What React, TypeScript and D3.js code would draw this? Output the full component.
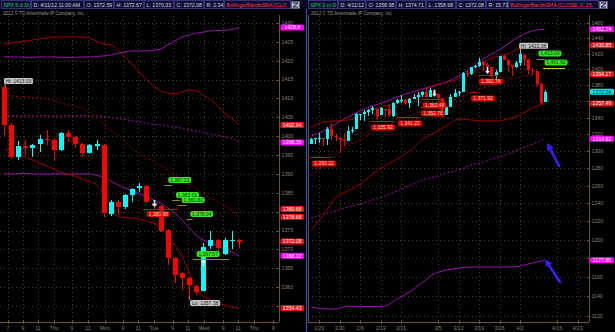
import React from "react";
import * as d3 from "d3";

const FONT = "'Liberation Sans', Arial, Helvetica, sans-serif";
const RED = "#ff0000";
const CYAN = "#00ffff";
const BAND_RED = "#a00000";
const BAND_MAG = "#9c10b0";
const GRID = "#4a3b20";
const AXIS_TEXT = "#8e8270";
const AXIS_LINE = "#6b5532";

// ================= LEFT PANEL: SPX 5 d 1h =================
const hourOpen = [1413.0, 1403.0, 1394.5, 1397.4, 1396.9, 1397.9, 1399.3, 1399.0, 1396.3, 1400.8, 1399.8, 1397.9, 1395.5, 1397.4, 1397.7, 1379.4, 1382.6, 1381.2, 1384.4, 1386.3, 1386.8, 1382.2, 1381.5, 1375.1, 1367.7, 1363.7, 1362.4, 1360.3, 1358.98, 1370.9, 1372.5, 1368.8, 1372.4, 1372.59];
const hourHigh = [1413.03, 1403.5, 1398.7, 1399.0, 1398.0, 1400.3, 1401.6, 1399.5, 1401.0, 1401.6, 1400.0, 1398.2, 1397.9, 1399.0, 1397.9, 1383.0, 1383.2, 1384.8, 1386.3, 1387.6, 1387.0, 1383.01, 1381.8, 1375.4, 1368.0, 1364.0, 1362.8, 1360.5, 1371.7, 1374.9, 1372.8, 1372.9, 1374.9, 1372.67];
const hourLow = [1400.3, 1394.0, 1393.7, 1395.0, 1394.5, 1395.8, 1397.7, 1393.4, 1396.0, 1398.5, 1396.9, 1394.5, 1395.2, 1396.3, 1378.6, 1378.9, 1379.1, 1380.8, 1382.6, 1385.2, 1382.3, 1380.6, 1374.6, 1365.9, 1361.1, 1359.2, 1357.38, 1357.9, 1358.98, 1370.0, 1369.3, 1368.5, 1370.1, 1370.33];
const hourClose = [1403.0, 1394.5, 1397.4, 1396.9, 1397.7, 1399.3, 1399.0, 1396.3, 1400.8, 1399.8, 1397.9, 1395.5, 1397.7, 1397.9, 1379.6, 1382.6, 1381.2, 1384.4, 1386.0, 1386.8, 1382.6, 1381.5, 1374.9, 1367.7, 1363.2, 1362.4, 1360.6, 1358.6, 1370.6, 1372.5, 1370.4, 1372.5, 1372.6, 1372.08];

const hourBandUpper = [1424.4, 1424.7, 1425.0, 1425.2, 1425.5, 1425.8, 1426.0, 1426.3, 1426.3, 1426.3, 1426.3, 1426.3, 1426.0, 1425.2, 1424.4, 1424.2, 1422.8, 1421.0, 1419.1, 1417.0, 1414.9, 1413.3, 1412.0, 1411.4, 1411.2, 1411.7, 1412.2, 1412.0, 1410.9, 1409.6, 1408.0, 1406.1, 1404.8, 1402.94];
const hourBandMid = [1410.9, 1410.7, 1410.5, 1410.4, 1410.3, 1410.1, 1409.9, 1409.3, 1408.8, 1408.3, 1408.0, 1407.5, 1406.4, 1404.8, 1403.2, 1401.6, 1400.3, 1398.7, 1396.6, 1395.5, 1394.2, 1393.2, 1392.4, 1391.0, 1389.7, 1388.4, 1387.3, 1386.0, 1384.7, 1383.6, 1382.6, 1381.5, 1380.2, 1378.68];
const hourBandLower = [1396.6, 1396.1, 1395.3, 1394.5, 1393.7, 1392.9, 1392.1, 1391.3, 1390.5, 1390.0, 1389.4, 1388.7, 1387.9, 1387.1, 1384.4, 1380.4, 1378.8, 1378.4, 1378.3, 1378.1, 1377.5, 1377.0, 1375.9, 1373.5, 1371.1, 1368.2, 1364.0, 1359.2, 1357.6, 1356.6, 1355.8, 1355.3, 1354.7, 1354.43];
const hourWideUpper = [1421.1, 1421.0, 1421.0, 1420.9, 1420.9, 1421.0, 1421.0, 1421.0, 1420.9, 1420.9, 1420.9, 1421.0, 1421.0, 1421.1, 1421.3, 1421.5, 1422.0, 1422.3, 1422.6, 1422.6, 1422.6, 1422.8, 1423.1, 1424.2, 1425.2, 1426.3, 1426.8, 1427.3, 1427.6, 1427.9, 1428.0, 1428.1, 1428.3, 1428.8];
const hourWideMid = [1405.4, 1405.4, 1405.4, 1405.4, 1405.4, 1405.4, 1405.4, 1405.3, 1405.4, 1405.4, 1405.4, 1405.4, 1405.4, 1405.4, 1405.2, 1405.0, 1404.7, 1404.4, 1404.0, 1403.8, 1403.5, 1403.2, 1403.0, 1402.7, 1402.4, 1402.1, 1401.6, 1401.4, 1401.0, 1400.6, 1400.2, 1399.8, 1399.4, 1398.36];
const hourWideLower = [1390.0, 1390.0, 1390.1, 1390.1, 1390.0, 1390.0, 1390.0, 1390.0, 1390.0, 1389.9, 1390.0, 1390.0, 1390.0, 1389.6, 1389.1, 1388.1, 1387.1, 1386.3, 1385.5, 1384.7, 1383.9, 1383.1, 1382.3, 1381.0, 1379.6, 1377.8, 1375.7, 1373.8, 1372.5, 1371.7, 1370.9, 1370.1, 1369.3, 1368.32];

const hourTickLabels = ["7", "9", "11", "Thu", "9", "11", "Mon", "9", "11", "Tue", "9", "11", "Wed", "9", "11", "Thu", "9"];
const hourTickPos = [0.56, 2.67, 4.78, 7.02, 9.55, 11.8, 14.2, 16.7, 18.8, 21.07, 23.7, 25.8, 28.1, 30.8, 32.9, 35.1, 37.8];
const hourPriceTicks = [1355, 1360, 1365, 1370, 1375, 1380, 1385, 1390, 1395, 1400, 1405, 1410, 1415, 1420, 1425, 1430];

const hourAxisTagValues = [1428.8, 1402.94, 1398.36, 1380.68, 1378.68, 1372.08, 1368.32, 1354.43];
const hourAxisTagKinds = ["mag", "red", "mag", "red", "red", "red", "mag", "red"];

const hourRedLevelValues = [1380.68];
const hourRedLevelFrom = [19.5];
const hourRedLevelTo = [24.4];

const hourGreenValues = [1387.03, 1383.01, 1381.82, 1378.04, 1367.57];
const hourGreenFrom = [22.5, 23.6, 24.4, 25.6, 26.5];
const hourGreenTo = [23.6, 24.7, 25.6, 26.5, 31.6];

const hourArrowBars = [21, 28];
const hourArrowValues = [1381.2, 1367.4];
const hourArrowDirs = ["down", "up"];

// ================= RIGHT PANEL: SPX 3 m D =================
const dayOpen = [1308.07, 1314.49, 1315.29, 1315.96, 1314.4, 1326.28, 1318.25, 1316.16, 1313.53, 1312.45, 1324.24, 1326.21, 1344.32, 1344.33, 1347.04, 1349.97, 1351.21, 1343.06, 1351.3, 1350.52, 1342.61, 1358.06, 1361.22, 1362.11, 1357.53, 1363.46, 1365.2, 1367.56, 1372.2, 1365.9, 1374.09, 1369.59, 1363.63, 1343.39, 1352.65, 1365.97, 1370.78, 1371.92, 1395.95, 1394.17, 1402.55, 1404.17, 1409.59, 1405.52, 1402.89, 1392.78, 1397.11, 1416.55, 1412.52, 1405.39, 1403.31, 1408.47, 1418.98, 1413.09, 1398.79, 1397.45, 1382.18, 1358.98];
const dayHigh = [1315.49, 1315.38, 1322.28, 1315.96, 1328.3, 1333.47, 1320.06, 1316.16, 1321.41, 1330.52, 1329.19, 1345.34, 1344.36, 1349.24, 1351.0, 1354.32, 1351.21, 1353.35, 1351.3, 1355.87, 1359.02, 1363.4, 1367.76, 1362.7, 1364.24, 1368.92, 1371.94, 1373.09, 1378.04, 1376.17, 1374.53, 1369.59, 1363.63, 1354.85, 1368.72, 1374.76, 1373.04, 1396.13, 1399.42, 1402.63, 1405.88, 1414.0, 1409.59, 1407.75, 1402.89, 1399.18, 1416.58, 1419.15, 1413.65, 1405.39, 1410.89, 1422.38, 1419.0, 1413.09, 1401.6, 1397.45, 1383.01, 1374.71];
const dayLow = [1308.07, 1309.17, 1309.89, 1306.06, 1307.65, 1313.6, 1311.72, 1300.49, 1306.69, 1312.45, 1321.57, 1326.21, 1337.52, 1335.92, 1341.95, 1344.63, 1337.35, 1343.06, 1340.83, 1340.8, 1341.22, 1357.24, 1358.11, 1355.53, 1352.28, 1363.46, 1354.92, 1365.97, 1363.81, 1365.9, 1366.42, 1359.13, 1340.03, 1343.39, 1352.65, 1365.97, 1366.69, 1371.92, 1389.97, 1392.78, 1401.47, 1402.43, 1397.68, 1400.64, 1388.73, 1386.87, 1397.11, 1411.95, 1397.2, 1391.56, 1401.42, 1404.46, 1404.62, 1394.09, 1392.92, 1378.24, 1357.38, 1358.98];
const dayClose = [1314.5, 1315.38, 1316.0, 1314.65, 1326.06, 1318.43, 1316.33, 1313.01, 1312.41, 1324.09, 1325.54, 1344.9, 1344.33, 1347.05, 1349.96, 1351.95, 1342.64, 1351.77, 1350.5, 1343.23, 1358.04, 1361.23, 1362.21, 1357.66, 1363.46, 1365.74, 1367.59, 1372.18, 1365.68, 1374.09, 1369.63, 1364.33, 1343.36, 1352.63, 1365.91, 1370.87, 1371.09, 1395.95, 1394.28, 1402.6, 1404.17, 1409.75, 1405.52, 1402.89, 1392.78, 1397.11, 1416.51, 1412.52, 1405.54, 1403.28, 1408.47, 1419.04, 1413.38, 1398.96, 1398.08, 1382.2, 1358.59, 1372.08];

const dayBandIdx = [0, 3, 6, 9, 12, 15, 18, 21, 24, 27, 30, 33, 36, 39, 42, 45, 48, 51, 54, 57];
const dayBandUpper = [1327.7, 1334.9, 1336.1, 1337.3, 1340.9, 1349.5, 1354.4, 1358.0, 1363.0, 1367.9, 1380.0, 1383.5, 1388.0, 1396.7, 1409.4, 1415.8, 1419.6, 1427.3, 1429.9, 1430.85];
const dayBandMid = [1271.2, 1283.9, 1295.6, 1306.2, 1313.3, 1321.7, 1328.8, 1336.1, 1342.2, 1348.2, 1354.4, 1359.3, 1364.2, 1370.4, 1376.6, 1381.6, 1386.6, 1390.4, 1392.9, 1394.17];
const dayBandLower = [1209.5, 1227.1, 1246.2, 1254.1, 1262.0, 1273.5, 1282.8, 1290.9, 1300.3, 1313.3, 1321.7, 1330.1, 1338.5, 1337.3, 1336.1, 1336.1, 1338.5, 1343.4, 1351.9, 1357.49];
const dayWideUpper = [1318.1, 1324.0, 1332.5, 1340.9, 1348.2, 1354.4, 1359.3, 1365.4, 1370.4, 1375.3, 1379.1, 1384.1, 1391.6, 1401.7, 1413.2, 1422.2, 1432.5, 1442.9, 1449.5, 1451.74];
const dayWideMid = [1223.8, 1228.2, 1231.6, 1236.0, 1239.4, 1243.9, 1248.4, 1254.1, 1259.8, 1266.6, 1270.1, 1274.7, 1278.1, 1283.9, 1287.4, 1292.1, 1296.8, 1302.7, 1308.6, 1314.82];
const dayWideLower = [1129.1, 1127.5, 1127.0, 1130.1, 1129.6, 1129.6, 1130.1, 1137.3, 1144.5, 1153.9, 1163.3, 1167.5, 1169.6, 1170.7, 1170.7, 1170.7, 1170.7, 1171.7, 1175.0, 1177.85];

const dayTickLabels = ["1/23", "1/30", "2/6", "2/13", "2/21", "3/5", "3/12", "3/19", "3/26", "4/2", "4/16", "4/23"];
const dayTickPos = [2, 7, 12, 17, 22, 31, 36, 41, 46, 51, 60, 65];
const dayPriceTicks = [1120, 1140, 1160, 1180, 1200, 1220, 1240, 1260, 1280, 1300, 1320, 1340, 1360, 1380, 1400, 1420, 1440, 1460];

const dayAxisTagValues = [1451.74, 1430.85, 1394.17, 1372.08, 1357.49, 1314.82, 1177.85];
const dayAxisTagKinds = ["mag", "red", "red", "cyan", "red", "mag", "mag"];

const dayRedLevelValues = [1293.22, 1335.92, 1341.22, 1352.78, 1363.46, 1371.92, 1392.78];
const dayRedLevelFrom = [0, 14.4, 21, 26.6, 27, 38.8, 40.7];
const dayRedLevelTo = [4.9, 20, 26.6, 30.7, 32, 40.5, 45.6];

const dayGreenValues = [1413.09, 1401.6];
const dayGreenFrom = [55.1, 56.6];
const dayGreenTo = [57.1, 62];

const dayArrowBars = [30, 43];
const dayArrowValues = [1365.9, 1394.2];

// blue hand-drawn arrows (tail -> tip, in bar index / price)
const blueArrowTail = [[60.5, 1282.8], [60.7, 1155]];
const blueArrowTip = [[57.6, 1309.7], [57.1, 1179]];

const leftHeader = ["SPX 5 d 1h", "D: 4/11/12 11:00 AM", "O: 1372.59", "H: 1372.67", "L: 1370.33", "C: 1372.08", "R: 2.34", "BollingerBandsSMA (CLO"];
const rightHeader = ["SPX 3 m D", "D: 4/11/12", "O: 1358.98", "H: 1374.71", "L: 1358.98", "C: 1372.08", "R: 15.73", "BollingerBandsSMA (CLOSE, 0, 25,"];
const leftHeaderX = [1, 31, 84, 114, 144, 174, 204, 224, 291];
const rightHeaderX = [308, 338, 366, 396, 426, 456, 486, 508, 599];

const TAG_FILL: Record<string, string> = { red: "#e8101a", mag: "#ff00ff", cyan: "#00e8e8" };
const TAG_TEXT: Record<string, string> = { red: "#ffffff", mag: "#ffffff", cyan: "#002040" };

type Sc = (v: number) => number;

function Candles({ o, h, l, c, x, y, bw }: { o: number[]; h: number[]; l: number[]; c: number[]; x: Sc; y: Sc; bw: number }) {
  return (
    <g shapeRendering="crispEdges">
      {o.map((ov, i) => {
        const up = c[i] >= ov;
        const col = up ? CYAN : RED;
        const cx = Math.round(x(i)) + 0.5;
        const yt = y(Math.max(ov, c[i]));
        const yb = y(Math.min(ov, c[i]));
        return (
          <g key={i}>
            <line x1={cx} x2={cx} y1={y(h[i])} y2={y(l[i])} stroke={col} strokeWidth={1} />
            <rect x={cx - bw / 2} y={yt} width={bw} height={Math.max(1, yb - yt)} fill={col} />
          </g>
        );
      })}
    </g>
  );
}

function AxisTag({ x, y, w, text, kind }: { x: number; y: number; w: number; text: string; kind: string }) {
  return (
    <g>
      <rect x={x} y={y - 3} width={w} height={6} rx={1.5} fill={TAG_FILL[kind]} />
      <text x={x + w / 2} y={y + 1.9} fontSize={5.2} textAnchor="middle" fill={TAG_TEXT[kind]} fontFamily={FONT}>{text}</text>
    </g>
  );
}

function Pill({ x, y, w, text, fill, color }: { x: number; y: number; w: number; text: string; fill: string; color: string }) {
  return (
    <g>
      <rect x={x} y={y} width={w} height={6} rx={2} fill={fill} />
      <text x={x + w / 2} y={y + 4.7} fontSize={5} textAnchor="middle" fill={color} fontFamily={FONT}>{text}</text>
    </g>
  );
}

function WhiteArrow({ x, y, dir }: { x: number; y: number; dir: string }) {
  const s = dir === "down" ? -1 : 1;
  const d = `M${x - 0.8},${y + s * 7} L${x + 0.8},${y + s * 7} L${x + 0.8},${y + s * 3} L${x + 2.3},${y + s * 3} L${x},${y} L${x - 2.3},${y + s * 3} L${x - 0.8},${y + s * 3} Z`;
  return <path d={d} fill="#ffffff" />;
}

function Header({ texts, xs }: { texts: string[]; xs: number[] }) {
  const ix = xs[xs.length - 1];
  return (
    <g>
      {texts.map((t, i) => {
        const x0 = xs[i];
        const x1 = xs[i + 1] - 1;
        const col = i === 0 ? "#19d35a" : i === texts.length - 1 ? "#ff3030" : "#d8d8e0";
        return (
          <g key={i}>
            <rect x={x0 + 0.5} y={0.5} width={x1 - x0} height={8} fill="#0d0d33" stroke="#34347a" strokeWidth={1} />
            <text x={x0 + 2.5} y={6.6} fontSize={5.2} fill={col} fontFamily={FONT}>{t}</text>
          </g>
        );
      })}
      <rect x={ix + 0.5} y={1.5} width={8} height={7} fill="#b8bccc" stroke="#5a5f80" />
      <path d={`M${ix + 2},3 L${ix + 7},3 L${ix + 2},7 L${ix + 7},7`} stroke="#1a1a40" strokeWidth={1} fill="none" />
    </g>
  );
}

export default function App() {
  const W = 615;
  const H = 332;
  const fmt = d3.format(",.2f");

  const xL = d3.scaleLinear().domain([-0.56, 38.62]).range([0, 279]);
  const yL = d3.scaleLinear().domain([1350.75, 1431.86]).range([322, 16]);
  const xR = d3.scaleLinear().domain([-0.73, 67.8]).range([308, 589]);
  const yR = d3.scaleLog().domain([1113.9, 1469.3]).range([322, 16]);

  const lineL = (vals: number[]) =>
    d3.line<number>().x((_, i) => xL(i)).y((v) => yL(v)).curve(d3.curveMonotoneX)(vals) || "";
  const lineR = (vals: number[]) =>
    d3.line<number>().x((_, i) => xR(dayBandIdx[i])).y((v) => yR(v)).curve(d3.curveMonotoneX)(vals) || "";

  // tick labels hidden behind the price tags (as in the reference)
  const freeL = (v: number) => hourAxisTagValues.every((t) => Math.abs(yL(t) - yL(v)) > 4.2);
  const freeR = (v: number) => dayAxisTagValues.every((t) => Math.abs(yR(t) - yR(v)) > 4.2);

  return (
    <svg width={W} height={H} style={{ position: "fixed", left: 0, top: 0, background: "#000", display: "block" }}>
      <rect x={0} y={0} width={W} height={H} fill="#000" />
      <defs>
        <clipPath id="clipL"><rect x={0} y={15} width={279} height={307} /></clipPath>
        <clipPath id="clipR"><rect x={308} y={15} width={281} height={307} /></clipPath>
      </defs>

      {/* header */}
      <rect x={0} y={0} width={W} height={9} fill="#070720" />
      <Header texts={leftHeader} xs={leftHeaderX} />
      <Header texts={rightHeader} xs={rightHeaderX} />
      <text x={3} y={14.5} fontSize={4.6} fill="#9a9a9a" fontFamily={FONT}>2012 © TD Ameritrade IP Company, Inc.</text>
      <text x={311} y={14.5} fontSize={4.6} fill="#9a9a9a" fontFamily={FONT}>2012 © TD Ameritrade IP Company, Inc.</text>

      {/* ============ LEFT PANEL ============ */}
      <g shapeRendering="crispEdges">
        {hourPriceTicks.map((v) => (
          <line key={"lg" + v} x1={0} x2={279} y1={Math.round(yL(v)) + 0.5} y2={Math.round(yL(v)) + 0.5} stroke={GRID} strokeDasharray="1,3" />
        ))}
        {hourTickPos.map((p, i) => (
          <line key={"lv" + i} x1={Math.round(xL(p)) + 0.5} x2={Math.round(xL(p)) + 0.5} y1={16} y2={322} stroke={GRID} strokeDasharray="1,3" />
        ))}
      </g>
      <g clipPath="url(#clipL)" fill="none" strokeWidth={1}>
        <path d={lineL(hourWideUpper)} stroke={BAND_MAG} />
        <path d={lineL(hourWideMid)} stroke={BAND_MAG} strokeDasharray="2,2" />
        <path d={lineL(hourWideLower)} stroke={BAND_MAG} />
        <path d={lineL(hourBandUpper)} stroke={BAND_RED} />
        <path d={lineL(hourBandMid)} stroke={BAND_RED} strokeDasharray="2,2" />
        <path d={lineL(hourBandLower)} stroke={BAND_RED} />
      </g>
      <Candles o={hourOpen} h={hourHigh} l={hourLow} c={hourClose} x={xL} y={yL} bw={5} />

      {hourRedLevelValues.map((v, i) => {
        const y = Math.round(yL(v)) + 0.5;
        const x0 = xL(hourRedLevelFrom[i]);
        return (
          <g key={"lr" + i}>
            <line x1={x0} x2={xL(hourRedLevelTo[i])} y1={y} y2={y} stroke="#e00000" strokeWidth={1} />
            <Pill x={x0 + 4} y={y + 1.5} w={23} text={fmt(v)} fill="#e00000" color="#ffd8d8" />
          </g>
        );
      })}
      {hourGreenValues.map((v, i) => {
        const y = Math.round(yL(v)) + 0.5;
        const x0 = xL(hourGreenFrom[i]);
        return (
          <g key={"lgr" + i}>
            <line x1={x0} x2={xL(hourGreenTo[i])} y1={y} y2={y} stroke="#8c8c10" strokeWidth={1} />
            <Pill x={x0 + 4} y={y - 8.5} w={23} text={fmt(v)} fill="#33e622" color="#0a3a0a" />
          </g>
        );
      })}
      {hourArrowBars.map((b, i) => (
        <WhiteArrow key={"la" + i} x={Math.round(xL(b)) + 0.5} y={yL(hourArrowValues[i])} dir={hourArrowDirs[i]} />
      ))}

      {/* Hi / Lo tags on left */}
      <g>
        <line x1={xL(0) + 1} x2={xL(0) + 1} y1={yL(hourHigh[0]) - 3} y2={yL(hourHigh[0])} stroke="#c0c0c0" />
        <rect x={xL(0)} y={yL(hourHigh[0]) - 9} width={29} height={6} rx={1.5} fill="#c4c4c4" />
        <text x={xL(0) + 14.5} y={yL(hourHigh[0]) - 4.3} fontSize={5} textAnchor="middle" fill="#202020" fontFamily={FONT}>{"Hi: " + hourHigh[0].toFixed(2)}</text>
        <line x1={xL(26)} x2={xL(26) + 1} y1={yL(hourLow[26])} y2={yL(hourLow[26]) + 3} stroke="#c0c0c0" />
        <rect x={xL(26) + 1} y={yL(hourLow[26]) + 3} width={30} height={6} rx={1.5} fill="#c4c4c4" />
        <text x={xL(26) + 16} y={yL(hourLow[26]) + 7.7} fontSize={5} textAnchor="middle" fill="#202020" fontFamily={FONT}>{"Lo: " + hourLow[26].toFixed(2)}</text>
      </g>

      {/* left axes */}
      <g shapeRendering="crispEdges">
        <line x1={279.5} x2={279.5} y1={15} y2={322} stroke={AXIS_LINE} />
        <line x1={0} x2={279} y1={322.5} y2={322.5} stroke={AXIS_LINE} />
        {hourPriceTicks.map((v) => (
          <line key={"lt" + v} x1={277} x2={280} y1={Math.round(yL(v)) + 0.5} y2={Math.round(yL(v)) + 0.5} stroke={AXIS_LINE} />
        ))}
        {hourTickPos.map((p, i) => (
          <line key={"lxt" + i} x1={Math.round(xL(p)) + 0.5} x2={Math.round(xL(p)) + 0.5} y1={320} y2={324} stroke={AXIS_LINE} />
        ))}
      </g>
      {hourPriceTicks.filter(freeL).map((v) => (
        <text key={"ltl" + v} x={281.5} y={yL(v) + 1.8} fontSize={5.2} fill={AXIS_TEXT} fontFamily={FONT}>{v}</text>
      ))}
      {hourTickLabels.map((t, i) => (
        <text key={"lxl" + i} x={xL(hourTickPos[i])} y={329.5} fontSize={5.2} textAnchor="middle" fill={AXIS_TEXT} fontFamily={FONT}>{t}</text>
      ))}
      {hourAxisTagValues.map((v, i) => (
        <AxisTag key={"lat" + i} x={280.5} y={yL(v)} w={23.5} text={String(v)} kind={hourAxisTagKinds[i]} />
      ))}

      {/* separator */}
      <line x1={306.5} x2={306.5} y1={9} y2={332} stroke="#2456c8" strokeWidth={1.2} />

      {/* ============ RIGHT PANEL ============ */}
      <g shapeRendering="crispEdges">
        {dayPriceTicks.map((v) => (
          <line key={"rg" + v} x1={308} x2={589} y1={Math.round(yR(v)) + 0.5} y2={Math.round(yR(v)) + 0.5} stroke={GRID} strokeDasharray="1,3" />
        ))}
        {dayTickPos.map((p, i) => (
          <line key={"rv" + i} x1={Math.round(xR(p)) + 0.5} x2={Math.round(xR(p)) + 0.5} y1={16} y2={322} stroke={GRID} strokeDasharray="1,3" />
        ))}
      </g>
      <g clipPath="url(#clipR)" fill="none" strokeWidth={1}>
        <path d={lineR(dayWideUpper)} stroke={BAND_MAG} />
        <path d={lineR(dayWideMid)} stroke={BAND_MAG} strokeDasharray="2,2" />
        <path d={lineR(dayWideLower)} stroke={BAND_MAG} />
        <path d={lineR(dayBandUpper)} stroke={BAND_RED} />
        <path d={lineR(dayBandMid)} stroke={BAND_RED} strokeDasharray="2,2" />
        <path d={lineR(dayBandLower)} stroke={BAND_RED} />
      </g>
      <Candles o={dayOpen} h={dayHigh} l={dayLow} c={dayClose} x={xR} y={yR} bw={3} />

      {dayRedLevelValues.map((v, i) => {
        const y = Math.round(yR(v)) + 0.5;
        const x0 = xR(dayRedLevelFrom[i]);
        return (
          <g key={"rr" + i}>
            <line x1={x0} x2={xR(dayRedLevelTo[i])} y1={y} y2={y} stroke="#e00000" strokeWidth={1} />
            <Pill x={x0 + 1} y={y + 3} w={24} text={fmt(v)} fill="#e00000" color="#ffd8d8" />
          </g>
        );
      })}
      {dayGreenValues.map((v, i) => {
        const y = Math.round(yR(v)) + 0.5;
        const x0 = xR(dayGreenFrom[i]);
        return (
          <g key={"rgr" + i}>
            <line x1={x0} x2={xR(dayGreenTo[i])} y1={y} y2={y} stroke={i === 0 ? "#8c8c10" : "#c8d820"} strokeWidth={1} />
            <Pill x={x0 + 1.5} y={y - 9} w={23} text={fmt(v)} fill="#33e622" color="#0a3a0a" />
          </g>
        );
      })}
      {dayArrowBars.map((b, i) => (
        <WhiteArrow key={"ra" + i} x={Math.round(xR(b)) + 0.5} y={yR(dayArrowValues[i])} dir="down" />
      ))}
      <g>
        <line x1={xR(51) + 0.5} x2={xR(51) + 0.5} y1={yR(dayHigh[51]) - 3} y2={yR(dayHigh[51])} stroke="#c0c0c0" />
        <rect x={xR(51) - 1} y={yR(dayHigh[51]) - 9} width={29} height={6} rx={1.5} fill="#c4c4c4" />
        <text x={xR(51) + 13.5} y={yR(dayHigh[51]) - 4.3} fontSize={5} textAnchor="middle" fill="#202020" fontFamily={FONT}>{"Hi: " + dayHigh[51].toFixed(2)}</text>
      </g>

      {/* blue arrows */}
      {blueArrowTail.map((t, i) => {
        const x1 = xR(t[0]), y1 = yR(t[1]);
        const x2 = xR(blueArrowTip[i][0]), y2 = yR(blueArrowTip[i][1]);
        const ang = Math.atan2(y2 - y1, x2 - x1);
        const hl = 7, hw = 3.6;
        const bx = x2 - hl * Math.cos(ang), by = y2 - hl * Math.sin(ang);
        const px = -Math.sin(ang), py = Math.cos(ang);
        return (
          <g key={"ba" + i}>
            <line x1={x1} y1={y1} x2={bx} y2={by} stroke="#3a1cff" strokeWidth={2.6} strokeLinecap="round" />
            <path d={`M${x2},${y2} L${bx + px * hw},${by + py * hw} L${bx - px * hw},${by - py * hw} Z`} fill="#3a1cff" />
          </g>
        );
      })}

      {/* right axes */}
      <g shapeRendering="crispEdges">
        <line x1={308.5} x2={308.5} y1={15} y2={322} stroke={AXIS_LINE} />
        <line x1={589.5} x2={589.5} y1={15} y2={322} stroke={AXIS_LINE} />
        <line x1={308} x2={589} y1={322.5} y2={322.5} stroke={AXIS_LINE} />
        {dayPriceTicks.map((v) => (
          <line key={"rt" + v} x1={587} x2={590} y1={Math.round(yR(v)) + 0.5} y2={Math.round(yR(v)) + 0.5} stroke={AXIS_LINE} />
        ))}
        {dayTickPos.map((p, i) => (
          <line key={"rxt" + i} x1={Math.round(xR(p)) + 0.5} x2={Math.round(xR(p)) + 0.5} y1={320} y2={324} stroke={AXIS_LINE} />
        ))}
      </g>
      {dayPriceTicks.filter(freeR).map((v) => (
        <text key={"rtl" + v} x={591.5} y={yR(v) + 1.8} fontSize={5.2} fill={AXIS_TEXT} fontFamily={FONT}>{v}</text>
      ))}
      {dayTickLabels.map((t, i) => (
        <text key={"rxl" + i} x={xR(dayTickPos[i])} y={329.5} fontSize={5.2} textAnchor="middle" fill={AXIS_TEXT} fontFamily={FONT}>{t}</text>
      ))}
      {dayAxisTagValues.map((v, i) => (
        <AxisTag key={"rat" + i} x={590} y={yR(v)} w={24} text={String(v)} kind={dayAxisTagKinds[i]} />
      ))}
    </svg>
  );
}
